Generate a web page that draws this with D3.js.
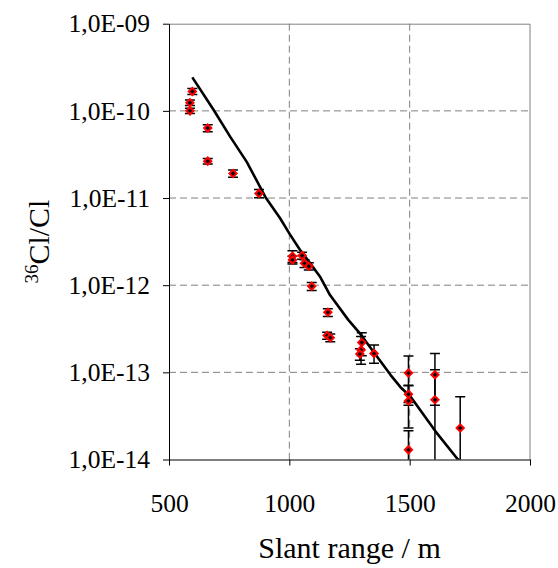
<!DOCTYPE html>
<html>
<head>
<meta charset="utf-8">
<script src="https://cdn.jsdelivr.net/npm/d3@7"></script>
<style>
  body { margin: 0; background: #fff; }
  text { font-family: "Liberation Serif", "Times New Roman", serif; }
</style>
</head>
<body>
<div class="chart"></div>
<script>
// measured points: slant range (m), 36Cl/Cl ratio, error below / above
var ranges = [597, 587, 587, 661, 661, 766, 874, 1013, 1013, 1053, 1063, 1081, 1093,
  1160, 1157, 1170, 1301, 1298, 1293, 1352, 1495, 1495, 1495, 1495, 1605, 1605, 1710];
var ratios = [1.67e-10, 1.24e-10, 1.0e-10, 6.34e-11, 2.65e-11, 1.91e-11, 1.13e-11, 2.15e-12, 1.95e-12,
  2.19e-12, 1.78e-12, 1.65e-12, 9.7e-13, 4.88e-13, 2.64e-13, 2.5e-13, 2.2e-13, 1.81e-13, 1.62e-13,
  1.65e-13, 9.8e-14, 5.6e-14, 4.7e-14, 1.29e-14, 9.4e-14, 4.85e-14, 2.3e-14];
var errLo = [0.13e-10, 0.09e-10, 0.07e-10, 0.6e-11, 0.2e-11, 0.18e-11, 0.12e-11, 0.33e-12, 0.2e-12,
  0.2e-12, 0.18e-12, 0.16e-12, 0.1e-12, 0.5e-13, 0.25e-13, 0.25e-13, 0.65e-13, 0.57e-13, 0.24e-13,
  0.38e-13, 5.6e-14, 1.1e-14, 2.4e-14, 1.3e-14, 5.2e-14, 4.85e-14, 2.3e-14];
var errHi = [0.13e-10, 0.09e-10, 0.07e-10, 0.6e-11, 0.2e-11, 0.18e-11, 0.12e-11, 0.33e-12, 0.2e-12,
  0.2e-12, 0.18e-12, 0.16e-12, 0.1e-12, 0.5e-13, 0.25e-13, 0.25e-13, 0.65e-13, 0.76e-13, 0.24e-13,
  0.41e-13, 5.6e-14, 1.4e-14, 2.4e-14, 0.85e-14, 7.0e-14, 5.85e-14, 2.95e-14];

// calculated curve
var fitRange = [597, 685, 754, 823, 903, 961, 1003, 1044, 1086, 1127, 1169, 1245, 1295,
  1421, 1461, 1504, 1608, 1698, 1712];
var fitRatio = [2.42e-10, 1.03e-10, 5.06e-11, 2.6e-11, 1.0e-11, 5.9e-12, 3.8e-12, 2.55e-12,
  1.79e-12, 1.26e-12, 7.7e-13, 4.0e-13, 2.76e-13, 9.3e-14, 6.8e-14, 5.25e-14, 2.09e-14,
  1.02e-14, 9.6e-15];

var xTicks = [500, 1000, 1500, 2000];
var yTicks = [1e-14, 1e-13, 1e-12, 1e-11, 1e-10, 1e-9];
var yTickLabels = ["1,0E-14", "1,0E-13", "1,0E-12", "1,0E-11", "1,0E-10", "1,0E-09"];

var serif = '"Liberation Serif", "Times New Roman", serif';
var svgWidth = 558, svgHeight = 568;
var margin = { top: 23.7, right: 28, bottom: 108.5, left: 169 };
var width = svgWidth - margin.left - margin.right;
var height = svgHeight - margin.top - margin.bottom;

var svg = d3.select(".chart").append("svg")
  .attr("width", svgWidth)
  .attr("height", svgHeight);

var chartGroup = svg.append("g")
  .attr("transform", `translate(${margin.left}, ${margin.top})`);

var xScale = d3.scaleLinear().domain([500, 2000]).range([0, width]);
var yScale = d3.scaleLog().domain([1e-14, 1e-9]).range([height, 0]);

chartGroup.append("clipPath").attr("id", "plotclip")
  .append("rect").attr("width", width).attr("height", height);

// dashed grid
chartGroup.selectAll(".hgrid")
  .data(yTicks.slice(1, -1))
  .enter().append("line")
  .attr("x1", 0).attr("x2", width)
  .attr("y1", d => yScale(d)).attr("y2", d => yScale(d))
  .attr("stroke", "#808080").attr("stroke-dasharray", "7,4");

chartGroup.selectAll(".vgrid")
  .data(xTicks.slice(1, -1))
  .enter().append("line")
  .attr("y1", 0).attr("y2", height)
  .attr("x1", d => xScale(d)).attr("x2", d => xScale(d))
  .attr("stroke", "#808080").attr("stroke-dasharray", "7,4");

// gray frame top / right
chartGroup.append("path")
  .attr("d", `M0,0.5H${width}V${height}`)
  .attr("fill", "none").attr("stroke", "#808080");

// axes
var xAxis = d3.axisBottom(xScale).tickValues(xTicks).tickFormat(d3.format("d"))
  .tickSize(6).tickSizeOuter(0).tickPadding(28);
var yAxis = d3.axisLeft(yScale).tickValues(yTicks).tickSize(6).tickSizeOuter(0).tickPadding(13)
  .tickFormat(d => yTickLabels[yTicks.indexOf(d)]);

var gx = chartGroup.append("g")
  .attr("transform", `translate(0, ${height})`)
  .call(xAxis);
var gy = chartGroup.append("g").call(yAxis);

[gx, gy].forEach(function(g) {
  g.attr("font-family", serif);
  g.selectAll("text").style("font-family", serif)
    .style("font-size", "25.5px").attr("fill", "#000");
  g.selectAll("line").attr("stroke", "#000");
  g.select(".domain").attr("stroke", "#000");
});

var plot = chartGroup.append("g").attr("clip-path", "url(#plotclip)");

// fit line
var line = d3.line()
  .x((d, i) => xScale(fitRange[i]))
  .y((d, i) => yScale(fitRatio[i]));

plot.append("path")
  .datum(fitRange)
  .attr("d", line)
  .attr("fill", "none")
  .attr("stroke", "#000")
  .attr("stroke-width", 2.6)
  .attr("stroke-linejoin", "round");

// error bars
var pts = ranges.map((r, i) => ({ x: r, y: ratios[i], lo: ratios[i] - errLo[i], hi: ratios[i] + errHi[i] }));
var capW = 5;

var eb = plot.selectAll(".err").data(pts).enter().append("g");
eb.append("line")
  .attr("x1", d => xScale(d.x)).attr("x2", d => xScale(d.x))
  .attr("y1", d => d.lo > 0 ? yScale(d.lo) : height + 5)
  .attr("y2", d => yScale(d.hi))
  .attr("stroke", "#000").attr("stroke-width", 1.5);
eb.append("line")
  .attr("x1", d => xScale(d.x) - capW).attr("x2", d => xScale(d.x) + capW)
  .attr("y1", d => yScale(d.hi)).attr("y2", d => yScale(d.hi))
  .attr("stroke", "#000").attr("stroke-width", 1.5);
eb.filter(d => d.lo > 0).append("line")
  .attr("x1", d => xScale(d.x) - capW).attr("x2", d => xScale(d.x) + capW)
  .attr("y1", d => yScale(d.lo)).attr("y2", d => yScale(d.lo))
  .attr("stroke", "#000").attr("stroke-width", 1.5);

// diamond markers
var diamond = d3.symbol().type(d3.symbolSquare).size(26);
chartGroup.selectAll(".pt").data(pts).enter().append("path")
  .attr("d", diamond)
  .attr("transform", d => `translate(${xScale(d.x)}, ${yScale(d.y)}) rotate(45)`)
  .attr("fill", "#000")
  .attr("stroke", "#ff0000")
  .attr("stroke-width", 2);

// axis titles
svg.append("text")
  .attr("x", margin.left + width / 2)
  .attr("y", 558)
  .attr("text-anchor", "middle")
  .style("font-family", serif)
  .attr("font-size", "30px")
  .text("Slant range / m");

var yt = svg.append("text")
  .attr("transform", `translate(49, ${margin.top + height / 2}) rotate(-90)`)
  .attr("text-anchor", "middle")
  .style("font-family", serif)
  .attr("font-size", "30px");
yt.append("tspan").attr("font-size", "19px").attr("dy", "-11").text("36");
yt.append("tspan").attr("dy", "11").text("Cl/Cl");
</script>
</body>
</html>
